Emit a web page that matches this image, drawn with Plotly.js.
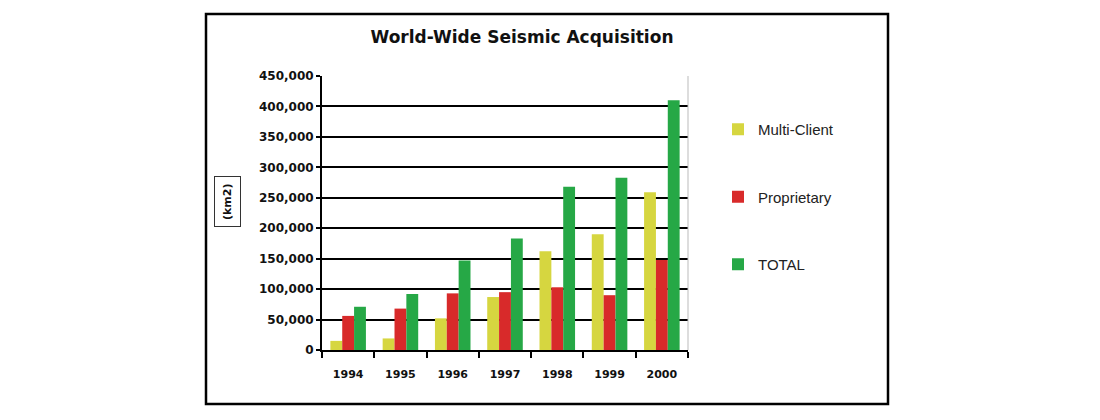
<!DOCTYPE html>
<html>
<head>
<meta charset="utf-8">
<script src="https://cdn.plot.ly/plotly-3.0.1.min.js"></script>
<style>html,body{margin:0;padding:0;background:#fff;}#chart{width:1100px;height:420px;}</style>
</head>
<body>
<div id="chart"></div>
<script>
const years = ['1994','1995','1996','1997','1998','1999','2000'];
const multiClient = [15000, 19000, 52000, 87000, 162000, 190000, 259000];
const proprietary = [56000, 68000, 93000, 95000, 103000, 90000, 148000];
const total = [71000, 92000, 147000, 183000, 268000, 283000, 410000];
const yTicks = [0, 50000, 100000, 150000, 200000, 250000, 300000, 350000, 400000, 450000];
const yTickText = ['0','50,000','100,000','150,000','200,000','250,000','300,000','350,000','400,000','450,000'];

const L = 322, R = 688, T = 76, B = 350, W = 1100, H = 420;
const px = v => (v - L) / (R - L);
const py = v => (B - v) / (B - T);
const boldFam = 'DejaVu Sans, Verdana, sans-serif';

const traces = [
  {type:'bar', name:'Multi-Client', x:years, y:multiClient, marker:{color:'#d6d640'}, legendgroup:'a'},
  {type:'bar', name:'Proprietary', x:years, y:proprietary, marker:{color:'#d82a2a'}, legendgroup:'b'},
  {type:'bar', name:'TOTAL', x:years, y:total, marker:{color:'#26a846'}, legendgroup:'c'}
];

const layout = {
  width: W, height: H,
  margin: {l: L, r: W - R, t: T, b: H - B},
  paper_bgcolor: '#fff', plot_bgcolor: '#fff',
  barmode: 'group', bargap: 0.32, bargroupgap: 0,
  font: {family: 'Liberation Sans, Arial, sans-serif', color: '#111'},
  title: {text: 'World-Wide Seismic Acquisition', font: {family: boldFam, size: 17, weight: 700, color:'#111'},
          x: 522 / W, xanchor: 'center', y: 1 - 37 / H, yanchor: 'middle', yref: 'container', xref: 'container'},
  xaxis: {type:'category', showline:true, linecolor:'#000', linewidth:2,
          ticks:'outside', tickson:'boundaries', ticklen:6, tickwidth:2, tickcolor:'#000',
          tickfont:{family: boldFam, size:11, weight:700, color:'#111'}, ticklabelstandoff: 13, showgrid:false, zeroline:false},
  yaxis: {range:[0, 450000], tickvals:yTicks, ticktext:yTickText, showline:true, linecolor:'#000', linewidth:2,
          ticks:'outside', ticklen:4, tickwidth:2, tickcolor:'#000',
          showgrid:true, gridcolor:'#000', gridwidth:2, zeroline:false,
          tickfont:{family: boldFam, size:12, weight:700, color:'#111'}, ticklabelstandoff: 0},
  legend: {x: px(718), y: py(113), xanchor:'left', yanchor:'top', traceorder:'grouped', tracegroupgap: 45,
           font:{size:15, color:'#222'}, itemwidth: 30, bgcolor:'rgba(0,0,0,0)'},
  showlegend: true,
  shapes: [
    {type:'rect', xref:'paper', yref:'paper', x0:px(206), x1:px(888), y0:py(404), y1:py(14),
     line:{color:'#000', width:2.5}, fillcolor:'rgba(0,0,0,0)', layer:'above'},
    {type:'line', xref:'paper', yref:'paper', x0:1, x1:1, y0:0, y1:1, line:{color:'#bbb', width:1}}
  ],
  annotations: [
    {xref:'paper', yref:'paper', x:px(227), y:py(202), text:'(km2)', textangle:-90, showarrow:false,
     font:{family: boldFam, size:11, weight:700, color:'#111'}, bordercolor:'#333', borderwidth:1, borderpad:6, xanchor:'center', yanchor:'middle'}
  ]
};

Plotly.newPlot('chart', traces, layout, {displayModeBar:false, staticPlot:true});
</script>
</body>
</html>
